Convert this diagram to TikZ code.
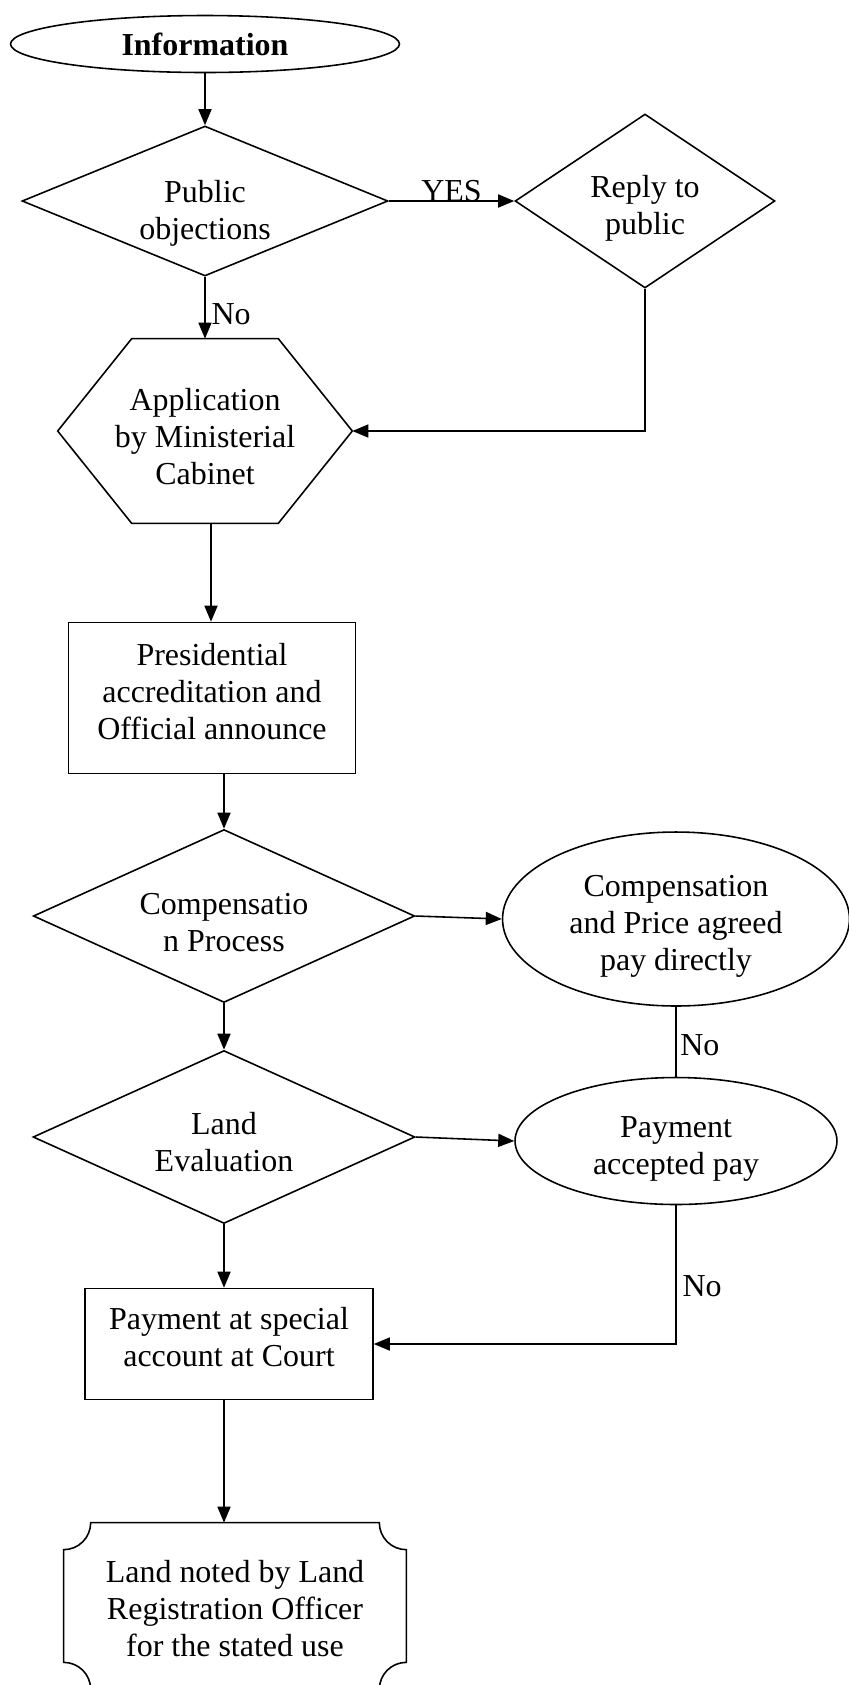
\documentclass[tikz,border=0pt]{standalone}
\usepackage{fontspec}
\setmainfont{Liberation Serif}
\usetikzlibrary{shapes.geometric, arrows.meta, calc}
\newcommand{\chartfont}{\fontsize{18.2}{21}\selectfont}
% struts that move a node's text down (top) or up (bottom)
\newcommand{\padtop}[1]{\rule{0pt}{#1}}
\newcommand{\padbot}[1]{\rule[-#1]{0pt}{0pt}}

\begin{document}
\begin{tikzpicture}[
    x=0.02cm, y=-0.02cm,
    font=\chartfont,
    terminal/.style={ellipse, draw, line width=0.9pt, inner sep=0pt, minimum width=7.78cm, minimum height=1.14cm, font=\chartfont\bfseries},
    decision/.style={diamond, draw, line width=0.9pt, inner sep=0pt, align=center},
    process/.style={rectangle, draw, line width=0.9pt, inner sep=0pt, align=center},
    outcome/.style={ellipse, draw, line width=0.9pt, inner sep=0pt, align=center},
    outline/.style={rectangle, inner sep=0pt, align=center},
    arr/.style={-{Triangle[length=0.32cm, width=0.26cm]}, line width=0.9pt},
    link/.style={line width=0.9pt}
]
    \useasboundingbox (0,0) rectangle (849,1685);

    \node[terminal] (info) at (205,44) {Information};
    \node[decision, minimum width=7.32cm, minimum height=3cm, aspect=2.44] (pub) at (205,201) {\padtop{0.94cm}Public\\objections};
    \node[decision, minimum width=5.2cm, minimum height=3.48cm, aspect=1.49] (reply) at (645,201) {\padtop{0.72cm}Reply to\\public};
    \node[outline, minimum width=5.88cm, minimum height=3.68cm] (app) at (205,431) {\padtop{0.68cm}Application\\by Ministerial\\Cabinet};
    \node[process, minimum width=5.74cm, minimum height=3.02cm] (pres) at (212,698) {Presidential\\accreditation and\\Official announce\padbot{0.28cm}};
    \node[decision, minimum width=7.63cm, minimum height=3.46cm, aspect=2.2] (comp) at (224,916) {\padtop{0.68cm}Compensatio\\n Process};
    \node[outcome, minimum width=6.94cm, minimum height=3.48cm] (agreed) at (676,919) {\padtop{0.72cm}Compensation\\and Price agreed\\pay directly};
    \node[decision, minimum width=7.64cm, minimum height=3.46cm, aspect=2.2] (land) at (224,1137) {\padtop{0.64cm}Land\\Evaluation};
    \node[outcome, minimum width=6.44cm, minimum height=2.54cm] (accept) at (676,1141) {\padtop{0.72cm}Payment\\accepted pay};
    \node[process, minimum width=5.76cm, minimum height=2.22cm] (court) at (229,1344) {Payment at special\\account at Court\padbot{0.28cm}};
    \node[outline, minimum width=6.84cm, minimum height=3.32cm] (reg) at (235,1606) {\padtop{0.56cm}Land noted by Land\\Registration Officer\\for the stated use};

    % hexagon round the cabinet step
    \draw[link] (app.west) -- ($(app.north west)+(74,0)$) -- ($(app.north east)+(-74,0)$) -- (app.east)
        -- ($(app.south east)+(-74,0)$) -- ($(app.south west)+(74,0)$) -- cycle;
    % plaque round the last step
    \draw[link] ($(reg.north west)+(27,0)$) -- ($(reg.north east)+(-27,0)$) arc[start angle=180, end angle=270, radius=0.54cm]
        -- ($(reg.south east)+(0,-27)$) arc[start angle=90, end angle=180, radius=0.54cm]
        -- ($(reg.south west)+(27,0)$) arc[start angle=0, end angle=90, radius=0.54cm]
        -- ($(reg.north west)+(0,27)$) arc[start angle=270, end angle=360, radius=0.54cm] -- cycle;

    \draw[arr] (info.south) -- (pub.north);
    \draw[arr] (pub.east) -- node[midway, anchor=base, inner sep=0pt] {YES} (reply.west);
    \draw[arr] (pub.south) -- node[pos=0.6, right] {No} (app.north);
    \draw[arr] (reply.south) -- (reply.south |- app.east) -- (app.east);
    \draw[arr] (app.south -| 211,0) -- (211,0 |- pres.north);
    \draw[arr] (pres.south -| comp.north) -- (comp.north);
    \draw[arr] (comp.east) -- (agreed.west);
    \draw[link] (agreed.south) -- node[pos=0.55, right, inner sep=2pt] {No} (accept.north);
    \draw[arr] (comp.south) -- (land.north);
    \draw[arr] (land.east) -- (accept.west);
    \draw[arr] (land.south) -- (land.south |- court.north);
    \draw[arr] (accept.south) -- node[pos=0.58, right] {No} (accept.south |- court.east) -- (court.east);
    \draw[arr] (land.south |- court.south) -- (land.south |- reg.north);
\end{tikzpicture}
\end{document}
